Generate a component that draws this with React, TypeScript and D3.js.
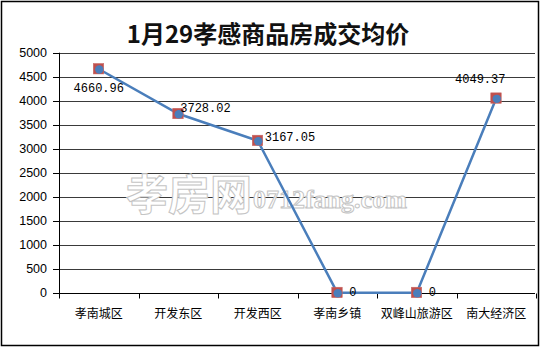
import React from 'react';
import * as d3 from 'd3';

const title = '1月29孝感商品房成交均价';
const categories = ['孝南城区', '开发东区', '开发西区', '孝南乡镇', '双峰山旅游区', '南大经济区'];
const values = [4660.96, 3728.02, 3167.05, 0, 0, 4049.37];
const valueLabels = ['4660.96', '3728.02', '3167.05', '0', '0', '4049.37'];
const yTicks = [0, 500, 1000, 1500, 2000, 2500, 3000, 3500, 4000, 4500, 5000];
const watermarkCn = '孝房网';
const watermarkEn = '0712fang.com';

// label placement (style): anchor, dx, dy relative to the point
const labelPlacement: { anchor: string; dx: number; dy: number }[] = [
  { anchor: 'middle', dx: 0, dy: 23 },
  { anchor: 'start', dx: 2, dy: -2 },
  { anchor: 'start', dx: 7, dy: 0 },
  { anchor: 'start', dx: 12, dy: 3 },
  { anchor: 'start', dx: 12, dy: 3 },
  { anchor: 'middle', dx: -16, dy: -15 },
];

export default function App() {
  const W = 540, H = 349;
  const left = 59, right = 536, top = 52.7, bottom = 292.7;
  const x = d3.scaleBand<string>().domain(categories).range([left, right]);
  const y = d3.scaleLinear().domain([0, 5000]).range([bottom, top]);
  const cx = (c: string) => (x(c) as number) + x.bandwidth() / 2;
  const line = d3
    .line<number>()
    .x((_, i) => cx(categories[i]))
    .y((d) => y(d));
  const snap = (v: number) => Math.round(v) + 0.5;
  const bounds = [...categories.map((c) => x(c) as number), right];

  return (
    <svg
      width={W}
      height={H}
      style={{ position: 'absolute', left: 0, top: 0, background: '#fff' }}
    >
      <rect x={0} y={0} width={W} height={H} fill="#fff" />
      <rect x={1.5} y={1.5} width={537} height={344} fill="none" stroke="#000" strokeWidth={1.5} />
      <text
        x={268}
        y={43}
        textAnchor="middle"
        fontFamily="'Noto Sans CJK SC', sans-serif"
        fontWeight="bold"
        fontSize={24}
        fill="#111"
      >
        {title}
      </text>
      {/* gridlines */}
      {yTicks.map((t) => (
        <line
          key={'g' + t}
          x1={left}
          x2={535}
          y1={snap(y(t))}
          y2={snap(y(t))}
          stroke={t === 0 ? '#000' : '#3a3a3a'}
          strokeWidth={1}
        />
      ))}
      {/* y ticks and labels */}
      {yTicks.map((t) => (
        <g key={'t' + t}>
          <line x1={53} x2={left} y1={snap(y(t))} y2={snap(y(t))} stroke="#000" />
          <text
            x={47}
            y={y(t)}
            dy="0.35em"
            textAnchor="end"
            fontFamily="'Liberation Sans', Arial, sans-serif"
            fontSize={12.5}
            fill="#000"
          >
            {t}
          </text>
        </g>
      ))}
      <line x1={snap(left)} x2={snap(left)} y1={top} y2={bottom + 1} stroke="#000" />
      {/* x ticks */}
      {bounds.map((b, i) => (
        <line key={'xt' + i} x1={snap(b)} x2={snap(b)} y1={snap(bottom)} y2={snap(bottom) + 5} stroke="#000" />
      ))}
      {categories.map((c) => (
        <text
          key={'c' + c}
          x={cx(c)}
          y={318}
          textAnchor="middle"
          fontFamily="'Noto Sans CJK SC', sans-serif"
          fontSize={12}
          fill="#000"
        >
          {c}
        </text>
      ))}
      {/* watermark */}
      <g fill="#fff" stroke="#c4c4c4" strokeWidth={1}>
        <text
          x={126}
          y={210}
          fontFamily="'Noto Sans CJK SC', sans-serif"
          fontWeight="bold"
          fontSize={42}
          letterSpacing={0}
        >
          {watermarkCn}
        </text>
        <text
          x={253}
          y={208}
          fontFamily="'Liberation Serif', serif"
          fontWeight="bold"
          fontSize={26}
        >
          {watermarkEn}
        </text>
      </g>
      {/* series line */}
      <path d={line(values) || ''} fill="none" stroke="#4a7ebb" strokeWidth={2.5} />
      {values.map((v, i) => (
        <g key={'m' + i}>
          <rect
            x={cx(categories[i]) - 5.5}
            y={y(v) - 5.5}
            width={10.5}
            height={10.5}
            fill="#c0504d"
            stroke="#c76a67"
            strokeWidth={0.5}
          />
          <circle cx={cx(categories[i]) + 0.5} cy={y(v) + 0.5} r={4.2} fill="#4a7ebb" />
        </g>
      ))}
      {values.map((v, i) => (
        <text
          key={'l' + i}
          x={cx(categories[i]) + labelPlacement[i].dx}
          y={y(v) + labelPlacement[i].dy}
          textAnchor={labelPlacement[i].anchor}
          fontFamily="'Liberation Mono', 'DejaVu Sans Mono', monospace"
          fontSize={12}
          fill="#000"
        >
          {valueLabels[i]}
        </text>
      ))}
    </svg>
  );
}
